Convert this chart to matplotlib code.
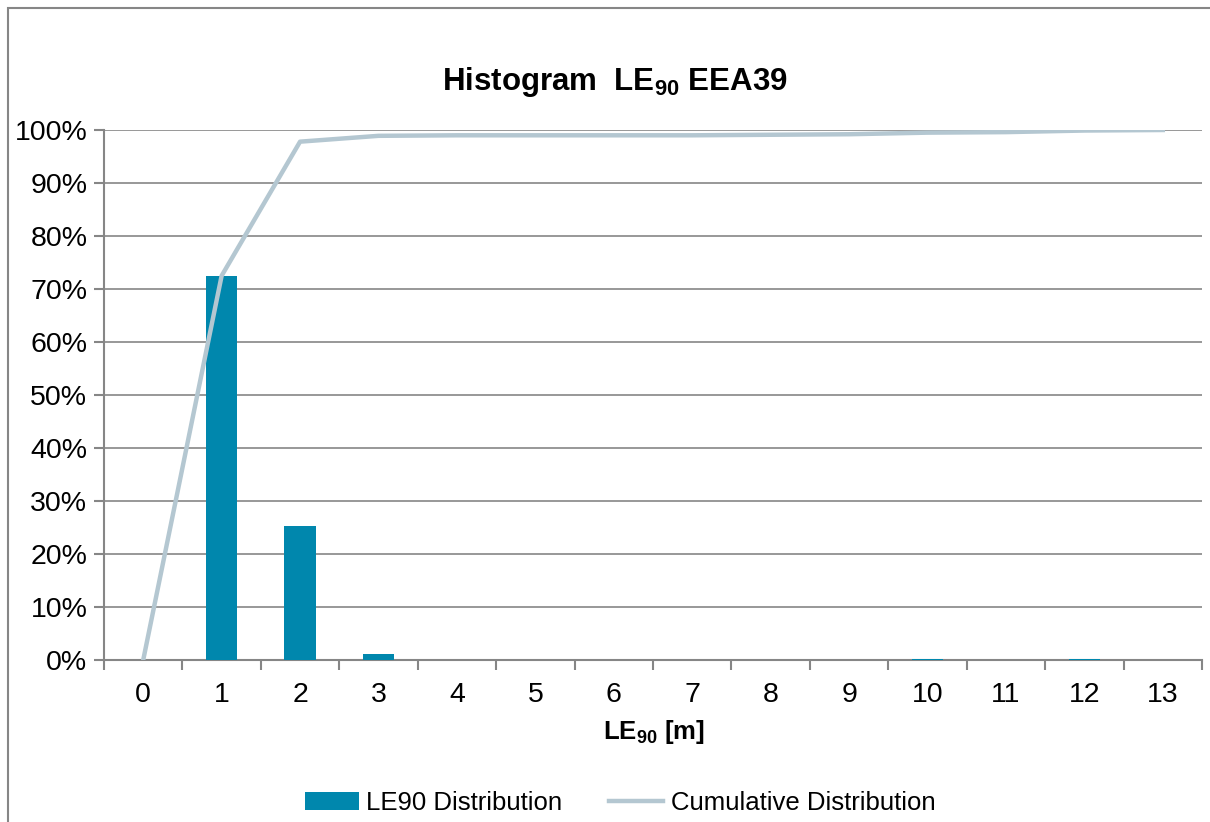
import matplotlib
matplotlib.use('Agg')
import matplotlib.pyplot as plt
from matplotlib.patches import Rectangle
from matplotlib.ticker import FuncFormatter

plt.rcParams['font.family'] = ['Liberation Sans', 'DejaVu Sans']
plt.rcParams['mathtext.fontset'] = 'custom'
plt.rcParams['mathtext.rm'] = 'Liberation Sans'
plt.rcParams['mathtext.bf'] = 'Liberation Sans:bold'

# 데이터 (그림에서 읽은 값, %)
categories = list(range(14))
distribution = [0, 72.5, 25.3, 1.1, 0, 0, 0, 0, 0, 0, 0.2, 0, 0.2, 0]
cumulative = [0, 72.5, 97.8, 98.9, 99.0, 99.0, 99.0, 99.0, 99.1, 99.2, 99.5, 99.6, 99.9, 100.0]

BAR_COLOR = '#0087AD'
LINE_COLOR = '#B4C7D1'
GRID_COLOR = '#868686'

fig = plt.figure(figsize=(12.1, 8.22), dpi=100)
ax = fig.add_axes([104 / 1210, 1 - 660 / 822, 1098 / 1210, 530 / 822])

# 바깥 테두리
fig.patches.append(Rectangle((8 / 1210, -0.1), 1.2, 1.1 - 8 / 822, transform=fig.transFigure,
                             fill=False, edgecolor=GRID_COLOR, lw=1.5))

bars = ax.bar(categories, distribution, width=0.4, color=BAR_COLOR, label='LE90 Distribution', zorder=3)
line, = ax.plot(categories, cumulative, color=LINE_COLOR, lw=3.2, label='Cumulative Distribution', zorder=4)

ax.set_xlim(-0.5, 13.5)
ax.set_ylim(0, 100)
ax.set_yticks(range(0, 101, 10))
ax.yaxis.set_major_formatter(FuncFormatter(lambda v, p: f'{int(v)}%'))
ax.set_xticks(categories)
ax.set_xticks([c + 0.5 for c in range(-1, 14)], minor=True)
ax.tick_params(axis='x', which='major', length=0, labelsize=20.5, pad=16)
ax.tick_params(axis='x', which='minor', length=7, color=GRID_COLOR, width=1.5)
ax.tick_params(axis='y', length=7, color=GRID_COLOR, width=1.5, labelsize=20.5, pad=5)

ax.grid(axis='y', color=GRID_COLOR, lw=1.2, zorder=0)
ax.set_axisbelow(True)
for s in ['top', 'right']:
    ax.spines[s].set_visible(False)
for s in ['left', 'bottom']:
    ax.spines[s].set_color(GRID_COLOR)
    ax.spines[s].set_linewidth(1.5)

fig.text(654 / 1210, 1 - 732 / 822, r'LE$_\mathbf{90}$ [m]', fontsize=18.5, fontweight='bold',
         ha='center', va='center')
fig.text(615 / 1210, 1 - 82 / 822, r'Histogram  LE$_\mathbf{90}$ EEA39', fontsize=22.5, fontweight='bold',
         ha='center', va='center')

fig.legend(handles=[bars, line], loc='center', bbox_to_anchor=(620 / 1210, 1 - 803 / 822), ncol=2,
           frameon=False, fontsize=18.5, handlelength=2.1, columnspacing=1.8, handletextpad=0.3)

fig.savefig('out.png', dpi=100)
